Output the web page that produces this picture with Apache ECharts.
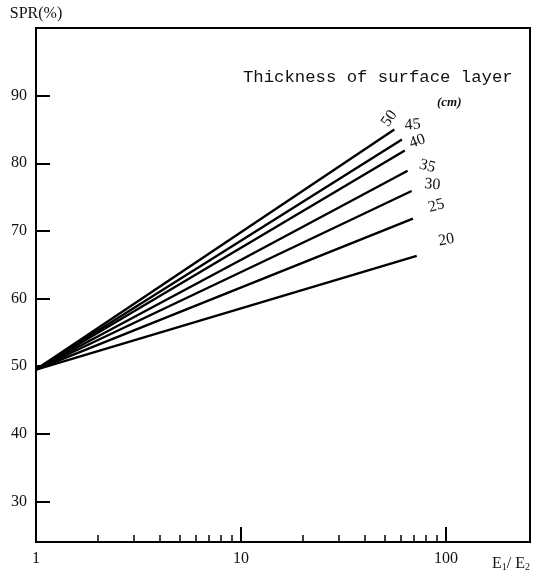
<!DOCTYPE html>
<html>
<head>
<meta charset="utf-8">
<script src="https://cdn.jsdelivr.net/npm/echarts@6/dist/echarts.min.js"></script>
<style>
  html, body { margin: 0; padding: 0; background: #fff; }
  #main { width: 542px; height: 579px; }
</style>
</head>
<body>
<div id="main"></div>
<script>
// thickness of surface layer (cm), one line each
const thickness = ['50', '45', '40', '35', '30', '25', '20'];
const startX = 1;
const startY = 49.5;
const endX = [56, 61, 63, 65, 68, 69, 72];
const endY = [85, 83.5, 81.9, 78.9, 75.9, 71.8, 66.3];

const yLabels = [30, 40, 50, 60, 70, 80, 90];
const xMajor = [10, 100];
const xMinor = [2, 3, 4, 5, 6, 7, 8, 9, 20, 30, 40, 50, 60, 70, 80, 90];

// label tweaks for the hand lettered numbers
const labelOffset = [[-3, -12], [2, -14], [5, -5], [8, -9], [10, -8], [16, -7], [22, -11]];
const labelRotate = [55, 5, 20, -15, -5, 15, 10];

const serif = '"Liberation Serif", "DejaVu Serif", serif';
const grid = { left: 36, right: 12, top: 28, bottom: 37 };

let myChart = echarts.init(document.getElementById('main'));

let series = thickness.map((t, i) => ({
  name: t,
  type: 'line',
  xAxisIndex: 0,
  yAxisIndex: 0,
  symbol: 'none',
  lineStyle: { color: '#000', width: 2.4 },
  endLabel: {
    show: true,
    formatter: '{a}',
    color: '#111',
    fontFamily: serif,
    fontSize: 16,
    distance: 2,
    offset: labelOffset[i],
    rotate: labelRotate[i]
  },
  data: [[startX, startY], [endX[i], endY[i]]]
}));

myChart.setOption({
  animation: false,
  grid: [
    Object.assign({ show: true, borderColor: '#000', borderWidth: 2 }, grid),
    Object.assign({}, grid)
  ],
  xAxis: [
    {
      type: 'log',
      gridIndex: 0,
      min: 1,
      max: 257,
      logBase: 10,
      axisLine: { show: true, lineStyle: { color: '#000', width: 2 } },
      axisTick: {
        show: true,
        inside: true,
        length: 15,
        customValues: xMajor,
        lineStyle: { color: '#000', width: 2 }
      },
      axisLabel: {
        customValues: [1, 10, 100],
        color: '#111',
        fontFamily: serif,
        fontSize: 16,
        margin: 9
      },
      splitLine: { show: false },
      name: '{e|E}{s|1}{e|/ E}{s|2}',
      nameLocation: 'end',
      nameGap: 0,
      nameTextStyle: {
        align: 'right',
        verticalAlign: 'top',
        padding: [14, 0, 0, 0],
        rich: {
          e: { fontFamily: serif, fontSize: 16, color: '#111' },
          s: { fontFamily: serif, fontSize: 10, color: '#111', verticalAlign: 'bottom', padding: [6, 0, 0, 0] }
        }
      }
    },
    {
      // minor ticks of each decade
      type: 'log',
      gridIndex: 1,
      min: 1,
      max: 257,
      axisLine: { show: false },
      axisTick: {
        show: true,
        inside: true,
        length: 7,
        customValues: xMinor,
        lineStyle: { color: '#000', width: 1.5 }
      },
      axisLabel: { show: false },
      splitLine: { show: false }
    }
  ],
  yAxis: [
    {
      type: 'value',
      gridIndex: 0,
      min: 24,
      max: 100,
      axisLine: { show: true, lineStyle: { color: '#000', width: 2 } },
      axisTick: {
        show: true,
        inside: true,
        length: 14,
        customValues: yLabels,
        lineStyle: { color: '#000', width: 2 }
      },
      axisLabel: {
        customValues: yLabels,
        color: '#111',
        fontFamily: serif,
        fontSize: 16,
        margin: 9
      },
      splitLine: { show: false },
      name: 'SPR(%)',
      nameLocation: 'end',
      nameGap: 6,
      nameTextStyle: { color: '#111', fontFamily: serif, fontSize: 16, align: 'center' }
    },
    {
      type: 'value',
      gridIndex: 1,
      min: 24,
      max: 100,
      show: false
    }
  ],
  graphic: [
    {
      type: 'text',
      left: 243,
      top: 69,
      style: {
        text: 'Thickness of surface layer',
        fill: '#111',
        font: '17.3px "Liberation Mono", "DejaVu Sans Mono", monospace'
      }
    },
    {
      type: 'text',
      left: 437,
      top: 96,
      style: {
        text: '(cm)',
        fill: '#111',
        font: 'italic bold 13px "Liberation Serif", serif'
      }
    }
  ],
  series: series
});

window.onresize = function () {
  myChart.resize();
};
</script>
</body>
</html>
